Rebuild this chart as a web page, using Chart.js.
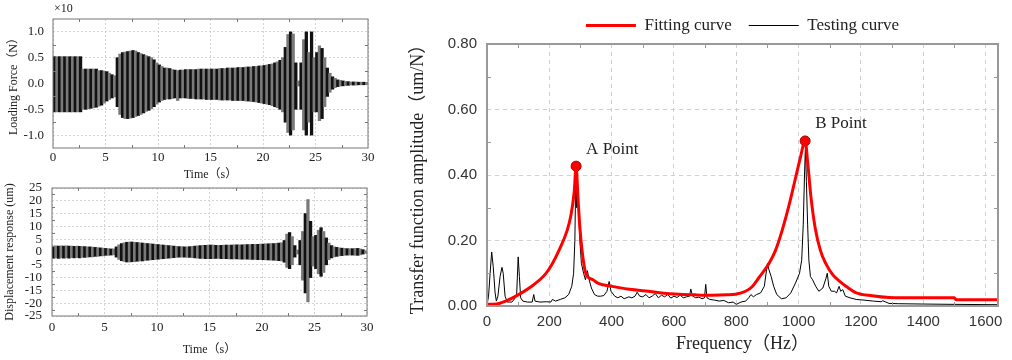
<!DOCTYPE html>
<html>
<head>
<meta charset="utf-8">
<script src="https://cdn.jsdelivr.net/npm/chart.js@4.4.1/dist/chart.umd.min.js"></script>
<style>
  html, body { margin: 0; padding: 0; background: #fff; }
  body { width: 1012px; height: 360px; position: relative; overflow: hidden; }
  canvas { position: absolute; }
</style>
</head>
<body>
<canvas id="forceChart" width="380" height="182" style="left:0;top:0"></canvas>
<canvas id="dispChart" width="380" height="178" style="left:0;top:182px"></canvas>
<canvas id="tfChart" width="612" height="360" style="left:400px;top:0"></canvas>
<script>
// ---- time records: signal range per 0.25 s bin ----
const binWidth = 0.25; // s
const timeTicks = [0, 5, 10, 15, 20, 25, 30];

// loading force, units of x10 N
const forceTicks = [-1.0, -0.5, 0.0, 0.5, 1.0];
const forceUpper = [
  0.52, 0.52, 0.52, 0.52, 0.52, 0.52, 0.52, 0.52, 0.52, 0.52,
  0.52, 0.28, 0.28, 0.28, 0.28, 0.28, 0.28, 0.25, 0.25, 0.24,
  0.23, 0.20, 0.17, 0.15, 0.50, 0.57, 0.60, 0.61, 0.62, 0.63,
  0.64, 0.63, 0.60, 0.58, 0.56, 0.54, 0.52, 0.50, 0.46, 0.40,
  0.36, 0.33, 0.30, 0.30, 0.29, 0.27, 0.26, 0.25, 0.26, 0.26,
  0.27, 0.27, 0.27, 0.27, 0.27, 0.28, 0.28, 0.28, 0.28, 0.28,
  0.28, 0.28, 0.28, 0.29, 0.29, 0.29, 0.30, 0.30, 0.30, 0.30,
  0.31, 0.31, 0.31, 0.32, 0.32, 0.32, 0.33, 0.33, 0.34, 0.34,
  0.35, 0.36, 0.37, 0.38, 0.40, 0.42, 0.45, 0.50, 0.70, 0.95,
  1.00, 0.96, 0.40, 0.05, 0.40, 0.85, 1.00, 0.60, 1.00, 0.50,
  0.60, 0.73, 0.68, 0.50, 0.30, 0.20, 0.13, 0.10, 0.07, 0.06,
  0.05, 0.04, 0.035, 0.03, 0.03, 0.03, 0.025, 0.025, 0.025, 0.02
];
const forceLower = [
  -0.55, -0.55, -0.55, -0.55, -0.55, -0.55, -0.55, -0.55, -0.55, -0.55,
  -0.55, -0.50, -0.50, -0.49, -0.48, -0.47, -0.46, -0.44, -0.42, -0.38,
  -0.34, -0.31, -0.28, -0.26, -0.45, -0.60, -0.66, -0.68, -0.68, -0.67,
  -0.66, -0.64, -0.62, -0.60, -0.57, -0.54, -0.52, -0.49, -0.45, -0.40,
  -0.36, -0.33, -0.31, -0.30, -0.30, -0.29, -0.28, -0.33, -0.28, -0.28,
  -0.28, -0.29, -0.29, -0.29, -0.30, -0.30, -0.30, -0.30, -0.31, -0.31,
  -0.31, -0.31, -0.31, -0.32, -0.32, -0.32, -0.32, -0.32, -0.33, -0.33,
  -0.33, -0.33, -0.33, -0.34, -0.34, -0.35, -0.35, -0.36, -0.37, -0.38,
  -0.39, -0.40, -0.41, -0.43, -0.45, -0.47, -0.50, -0.55, -0.75, -0.95,
  -1.00, -0.90, -0.50, -0.05, -0.50, -0.90, -1.00, -0.75, -1.00, -0.55,
  -0.55, -0.72, -0.68, -0.45, -0.25, -0.17, -0.11, -0.08, -0.06, -0.05,
  -0.045, -0.04, -0.035, -0.03, -0.03, -0.03, -0.025, -0.025, -0.025, -0.02
];

// displacement response, um
const dispTicks = [-25, -20, -15, -10, -5, 0, 5, 10, 15, 20, 25];
const dispUpper = [
  2.3, 2.4, 2.3, 2.4, 2.3, 2.4, 2.3, 2.3, 2.2, 2.3,
  2.2, 2.2, 2.1, 2.0, 2.0, 1.9, 1.8, 1.7, 1.6, 1.5,
  1.4, 1.3, 1.2, 1.2, 2.0, 2.8, 3.3, 3.6, 3.8, 3.9,
  3.9, 3.8, 3.7, 3.6, 3.5, 3.4, 3.3, 3.2, 3.1, 3.0,
  2.9, 2.8, 2.7, 2.6, 2.5, 2.4, 2.3, 2.2, 2.1, 2.1,
  2.0, 2.0, 2.1, 2.2, 2.3, 2.4, 2.5, 2.6, 2.6, 2.7,
  2.7, 2.7, 2.6, 2.6, 2.6, 2.7, 2.7, 2.7, 2.7, 2.8,
  2.8, 2.8, 2.8, 2.9, 2.9, 2.9, 3.0, 3.0, 3.0, 3.1,
  3.1, 3.2, 3.2, 3.3, 3.3, 3.4, 3.5, 3.6, 4.5, 7.0,
  7.6, 6.0, 2.5, 0.8, 4.5, 8.0, 15.0, 20.5, 12.0, 6.0,
  6.5, 8.5, 9.5, 8.0, 5.5, 3.5, 2.5, 2.0, 1.8, 1.6,
  1.5, 1.4, 1.3, 1.3, 1.3, 1.4, 1.4, 1.2, 0.9, 0.5
];
const dispLower = [
  -2.4, -2.3, -2.5, -2.3, -2.4, -2.3, -2.4, -2.2, -2.3, -2.2,
  -2.3, -2.1, -2.1, -2.0, -1.9, -1.9, -1.7, -1.7, -1.5, -1.5,
  -1.3, -1.3, -1.2, -1.1, -2.0, -2.9, -3.4, -3.7, -3.9, -3.9,
  -3.8, -3.8, -3.6, -3.5, -3.5, -3.3, -3.2, -3.1, -3.0, -2.9,
  -2.8, -2.7, -2.6, -2.5, -2.4, -2.3, -2.2, -2.1, -2.0, -2.0,
  -2.0, -2.1, -2.1, -2.2, -2.3, -2.4, -2.5, -2.5, -2.6, -2.6,
  -2.6, -2.6, -2.5, -2.5, -2.6, -2.6, -2.6, -2.7, -2.7, -2.7,
  -2.7, -2.8, -2.8, -2.8, -2.8, -2.9, -2.9, -2.9, -3.0, -3.0,
  -3.0, -3.1, -3.1, -3.2, -3.2, -3.3, -3.4, -3.5, -4.0, -6.0,
  -6.5, -5.0, -2.0, -0.8, -5.0, -11.0, -16.0, -19.5, -10.0, -5.5,
  -6.5, -8.5, -9.5, -8.0, -5.0, -3.0, -2.3, -1.9, -1.7, -1.5,
  -1.4, -1.3, -1.2, -1.2, -1.2, -1.3, -1.3, -1.1, -0.8, -0.5
];

// ---- transfer function (Hz, um/N) ----
const freqTicks = [0, 200, 400, 600, 800, 1000, 1200, 1400, 1600];
const ampTicks = [0, 0.2, 0.4, 0.6, 0.8];

const fitFreq = [0, 30, 60, 100, 150, 188, 210, 231, 257, 270, 280, 286, 292, 298, 305, 317, 340, 359, 402, 450,
  509, 560, 616, 670, 723, 770, 798, 830, 850, 873, 905, 926, 947, 970, 990, 1005, 1021, 1030, 1040, 1053,
  1070, 1087, 1110, 1130, 1160, 1183, 1236, 1290, 1400, 1500, 1505, 1640];
const fitAmp = [0.005, 0.006, 0.015, 0.034, 0.065, 0.098, 0.13, 0.17, 0.23, 0.28, 0.35, 0.427, 0.33, 0.24, 0.17, 0.10, 0.08, 0.068, 0.06, 0.052,
  0.046, 0.04, 0.036, 0.034, 0.033, 0.034, 0.036, 0.045, 0.058, 0.087, 0.13, 0.17, 0.23, 0.31, 0.39, 0.45, 0.504, 0.43, 0.33, 0.24,
  0.17, 0.13, 0.095, 0.077, 0.055, 0.041, 0.031, 0.026, 0.025, 0.025, 0.019, 0.019];

const testFreq = [0, 5, 10, 15, 20, 26, 30, 35, 42, 48, 52, 58, 65, 80, 95, 100, 104, 108, 115, 130,
  145, 150, 154, 170, 190, 205, 210, 220, 235, 250, 262, 272, 278, 282, 285, 288, 291, 294, 298, 303,
  310, 316, 322, 328, 335, 345, 355, 365, 375, 385, 392, 398, 410, 420, 430, 440, 455, 465, 475, 482,
  490, 500, 510, 520, 530, 540, 550, 560, 570, 580, 590, 600, 610, 620, 630, 640, 650, 654, 660, 670,
  680, 690, 698, 702, 706, 715, 730, 745, 760, 775, 790, 800, 815, 830, 840, 847, 855, 865, 878, 890,
  900, 905, 912, 920, 930, 945, 960, 975, 990, 1003, 1010, 1015, 1019, 1022, 1025, 1029, 1033, 1038, 1045, 1055,
  1065, 1078, 1088, 1092, 1097, 1105, 1115, 1122, 1130, 1135, 1142, 1150, 1165, 1185, 1210, 1240, 1265, 1270, 1278, 1290,
  1320, 1400, 1500, 1640];
const testAmp = [0.004, 0.03, 0.10, 0.165, 0.12, 0.04, 0.015, 0.03, 0.09, 0.118, 0.10, 0.03, 0.012, 0.012, 0.03, 0.15, 0.09, 0.025, 0.015, 0.012,
  0.012, 0.035, 0.015, 0.012, 0.013, 0.012, 0.02, 0.015, 0.02, 0.025, 0.035, 0.06, 0.10, 0.20, 0.40, 0.30, 0.36, 0.30, 0.20, 0.13,
  0.10, 0.08, 0.108, 0.08, 0.055, 0.035, 0.03, 0.03, 0.032, 0.045, 0.075, 0.045, 0.03, 0.025, 0.03, 0.022, 0.028, 0.025, 0.03, 0.042,
  0.03, 0.028, 0.035, 0.025, 0.03, 0.038, 0.025, 0.033, 0.028, 0.035, 0.024, 0.03, 0.026, 0.033, 0.025, 0.028, 0.03, 0.052, 0.03, 0.025,
  0.027, 0.022, 0.025, 0.066, 0.025, 0.02, 0.018, 0.015, 0.017, 0.01, 0.012, 0.005, 0.012, 0.015, 0.025, 0.035, 0.028, 0.035, 0.04, 0.06,
  0.13, 0.11, 0.09, 0.06, 0.035, 0.022, 0.025, 0.04, 0.07, 0.10, 0.14, 0.25, 0.40, 0.49, 0.38, 0.25, 0.14, 0.09, 0.08, 0.06,
  0.045, 0.055, 0.085, 0.10, 0.06, 0.045, 0.045, 0.04, 0.06, 0.045, 0.05, 0.03, 0.025, 0.02, 0.018, 0.015, 0.013, 0.016, 0.013, 0.008,
  0.007, 0.006, 0.005, 0.004];

// resonance points marked on the fitting curve
const markerNames = ['A Point', 'B Point'];
const markerFreq = [286, 1021];
const markerAmp = [0.427, 0.504];

Chart.defaults.font.family = "'Liberation Serif', 'Noto Sans CJK SC', serif";
Chart.defaults.color = '#222';

// use a fixed list of tick values
function fixedTicks(values) {
  return s => { s.ticks = values.map(v => ({ value: v })); };
}

// plot frame with small inward minor ticks, drawn over the data
const framePlugin = {
  id: 'frame',
  afterDatasetsDraw(chart, args, opts) {
    const { ctx, chartArea: a, scales: { x, y } } = chart;
    const len = opts.tickLen;
    ctx.save();
    ctx.strokeStyle = opts.color;
    ctx.lineWidth = 1;
    ctx.beginPath();
    for (let i = 0; i < x.ticks.length - 1; i++) {
      const px = Math.round(x.getPixelForValue((x.ticks[i].value + x.ticks[i + 1].value) / 2)) + 0.5;
      ctx.moveTo(px, a.bottom); ctx.lineTo(px, a.bottom - len);
      ctx.moveTo(px, a.top); ctx.lineTo(px, a.top + len);
    }
    for (let i = 0; i < y.ticks.length - 1; i++) {
      const py = Math.round(y.getPixelForValue((y.ticks[i].value + y.ticks[i + 1].value) / 2)) + 0.5;
      ctx.moveTo(a.left, py); ctx.lineTo(a.left + len, py);
      ctx.moveTo(a.right, py); ctx.lineTo(a.right - len, py);
    }
    ctx.stroke();
    ctx.lineWidth = opts.width;
    ctx.strokeRect(a.left, a.top, a.right - a.left, a.bottom - a.top);
    ctx.restore();
  }
};

// "x10" scale note above the force plot
const unitNotePlugin = {
  id: 'unitNote',
  afterDraw(chart, args, opts) {
    if (!opts.text) return;
    const { ctx, chartArea: a } = chart;
    ctx.save();
    ctx.font = "12px 'Liberation Serif'";
    ctx.fillStyle = '#222';
    ctx.textBaseline = 'middle';
    ctx.fillText(opts.text, a.left + 1, a.top - 10);
    ctx.restore();
  }
};

// labels next to the resonance markers
const pointLabelPlugin = {
  id: 'pointLabels',
  afterDatasetsDraw(chart) {
    const { ctx, scales: { x, y } } = chart;
    ctx.save();
    ctx.font = "17px 'Liberation Serif'";
    ctx.fillStyle = '#222';
    ctx.textBaseline = 'middle';
    markerNames.forEach((name, i) => {
      ctx.fillText(name, x.getPixelForValue(markerFreq[i]) + 10, y.getPixelForValue(markerAmp[i]) - 17);
    });
    ctx.restore();
  }
};

function waveChart(canvasId, upper, lower, cfg) {
  const bars = upper.map((hi, i) => ({ x: binWidth * (i + 0.5), y: [lower[i], hi] }));
  return new Chart(document.getElementById(canvasId), {
    type: 'bar',
    data: {
      datasets: [{
        data: bars,
        backgroundColor: c => (c.dataIndex % 2 ? '#7a7a7a' : '#111'),
        borderWidth: 0,
        barPercentage: 1,
        categoryPercentage: 1
      }]
    },
    options: {
      responsive: false,
      devicePixelRatio: 1,
      animation: false,
      layout: { padding: cfg.padding },
      plugins: {
        legend: { display: false },
        tooltip: { enabled: false },
        frame: { color: '#777', width: 1, tickLen: 3 },
        unitNote: { text: cfg.note }
      },
      scales: {
        x: {
          type: 'linear', min: 0, max: 30, offset: false,
          afterBuildTicks: fixedTicks(timeTicks),
          ticks: { autoSkip: false, padding: cfg.xTickPad, maxRotation: 0, font: { size: 13 }, callback: v => String(v) },
          grid: { color: '#d4d4d4', drawTicks: false, offset: false },
          border: { display: false, dash: [2, 2] },
          title: { display: true, text: 'Time（s）', font: { size: 12 }, padding: { top: 0, bottom: cfg.xTitlePad } },
          afterFit: s => { s.height = cfg.xHeight; s.paddingLeft = 0; s.paddingRight = 0; }
        },
        y: {
          min: cfg.yMin, max: cfg.yMax,
          afterBuildTicks: fixedTicks(cfg.yTicks),
          ticks: { autoSkip: false, padding: cfg.yTickPad, font: { size: 13 }, callback: v => cfg.fmt(v) },
          grid: { color: '#d4d4d4', drawTicks: false },
          border: { display: false, dash: [2, 2] },
          title: { display: true, text: cfg.yTitle, font: { size: 12 }, padding: { top: cfg.yTitlePad, bottom: 0 } },
          afterFit: s => { s.width = cfg.yWidth; s.paddingTop = 0; s.paddingBottom = 0; }
        }
      }
    },
    plugins: [framePlugin, unitNotePlugin]
  });
}

waveChart('forceChart', forceUpper, forceLower, {
  padding: { top: 19, right: 12, left: 0, bottom: 0 },
  xHeight: 34, xTickPad: 2, xTitlePad: 0,
  yWidth: 53, yTickPad: 9, yTitlePad: 7,
  yMin: -1.25, yMax: 1.25, yTicks: forceTicks, fmt: v => v.toFixed(1),
  yTitle: 'Loading Force（N）', note: '×10'
});

waveChart('dispChart', dispUpper, dispLower, {
  padding: { top: 6, right: 13, left: 0, bottom: 0 },
  xHeight: 44, xTickPad: 4, xTitlePad: 3,
  yWidth: 52, yTickPad: 10, yTitlePad: 3,
  yMin: -25, yMax: 25, yTicks: dispTicks, fmt: v => String(v),
  yTitle: 'Displacement response (um)', note: ''
});

new Chart(document.getElementById('tfChart'), {
  type: 'line',
  data: {
    datasets: [
      {
        label: 'Fitting curve',
        data: fitFreq.map((f, i) => ({ x: f, y: fitAmp[i] })),
        borderColor: '#ff0000',
        borderWidth: 3,
        pointRadius: 0,
        cubicInterpolationMode: 'monotone'
      },
      {
        label: 'Testing curve',
        data: testFreq.map((f, i) => ({ x: f, y: testAmp[i] })),
        borderColor: '#000',
        borderWidth: 1,
        pointRadius: 0,
        tension: 0
      },
      {
        label: 'markers',
        data: markerFreq.map((f, i) => ({ x: f, y: markerAmp[i] })),
        showLine: false,
        pointRadius: 5,
        pointBackgroundColor: '#ff0000',
        pointBorderColor: '#a00000',
        pointBorderWidth: 1
      }
    ]
  },
  options: {
    responsive: false,
    devicePixelRatio: 1,
    animation: false,
    layout: { padding: { top: 0, right: 14, left: 0, bottom: 0 } },
    plugins: {
      legend: {
        fullSize: false,
        labels: {
          usePointStyle: true,
          pointStyle: 'line',
          pointStyleWidth: 50,
          padding: 17,
          color: '#222',
          font: { size: 17 },
          filter: item => item.text !== 'markers'
        }
      },
      tooltip: { enabled: false },
      frame: { color: '#999', width: 2, tickLen: 4 }
    },
    scales: {
      x: {
        type: 'linear', min: 0, max: 1640,
        afterBuildTicks: fixedTicks(freqTicks),
        ticks: { autoSkip: false, padding: 7, maxRotation: 0, color: '#333', font: { family: "'Liberation Sans'", size: 15 }, callback: v => String(v) },
        grid: { color: '#cfcfcf', drawTicks: false },
        border: { display: false, dash: [4, 4] },
        title: { display: true, text: 'Frequency（Hz）', font: { size: 18 }, padding: { top: 0, bottom: 5 } },
        afterFit: s => { s.height = 54; s.paddingLeft = 0; s.paddingRight = 0; }
      },
      y: {
        min: 0, max: 0.8,
        afterBuildTicks: fixedTicks(ampTicks),
        ticks: { autoSkip: false, padding: 10, color: '#333', font: { family: "'Liberation Sans'", size: 15 }, callback: v => v.toFixed(2) },
        grid: { color: '#cfcfcf', drawTicks: false },
        border: { display: false, dash: [4, 4] },
        title: { display: true, text: 'Transfer function amplitude（um/N）', font: { size: 18 }, padding: { top: 7, bottom: 0 } },
        afterFit: s => { s.width = 87; s.paddingTop = 0; s.paddingBottom = 0; }
      }
    }
  },
  plugins: [framePlugin, pointLabelPlugin]
});
</script>
</body>
</html>
